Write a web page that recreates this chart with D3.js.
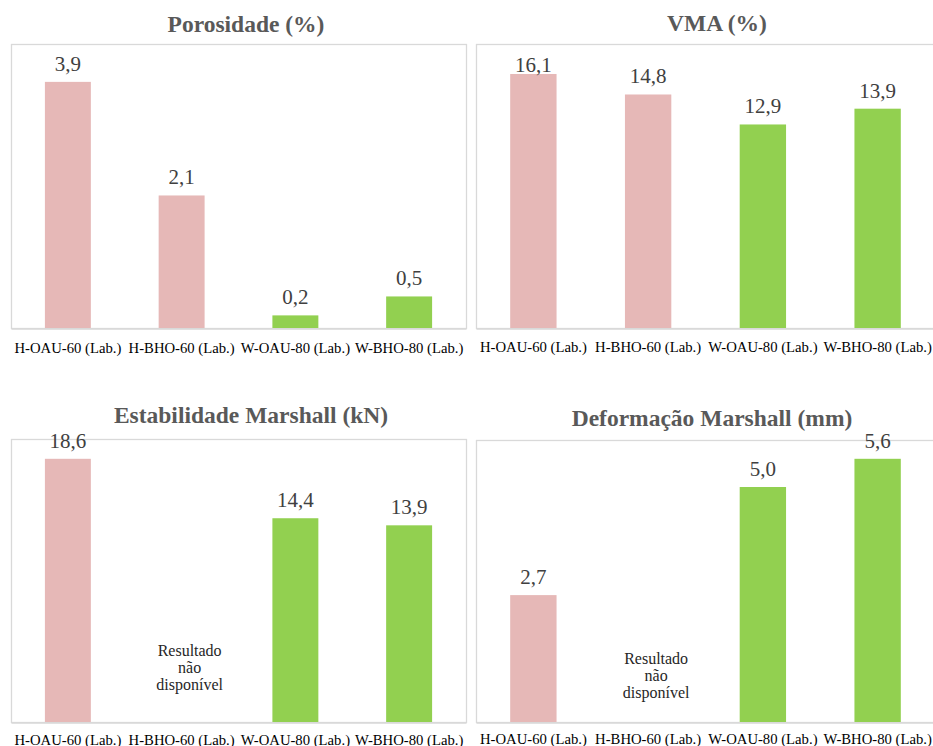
<!DOCTYPE html>
<html>
<head>
<meta charset="utf-8">
<script src="https://cdn.jsdelivr.net/npm/d3@7"></script>
<style>
  html, body { margin: 0; padding: 0; background: #fff; }
  svg { display: block; }
</style>
</head>
<body>
<svg id="chart" width="933" height="746"></svg>
<script>
// Mix designs compared in every panel
const categories = ["H-OAU-60 (Lab.)", "H-BHO-60 (Lab.)", "W-OAU-80 (Lab.)", "W-BHO-80 (Lab.)"];

// Measured properties (null = no result)
const porosidade   = [3.9, 2.1, 0.2, 0.5];
const vma          = [16.1, 14.8, 12.9, 13.9];
const estabilidade = [18.6, null, 14.4, 13.9];
const deformacao   = [2.7, null, 5.0, 5.6];

const panelTitles = ["Porosidade (%)", "VMA (%)", "Estabilidade Marshall (kN)", "Deformação Marshall (mm)"];
const axisMax = [4.5, 18, 20, 6];
const missingText = ["Resultado", "não", "disponível"];

// Panel geometry and styling
const layout = [
  { x0: 11,  x1: 466, y0: 44,  y1: 328, titleX: 246, titleY: 32,  catY: 352, labelMin: 0 },
  { x0: 476, x1: 935, y0: 44,  y1: 328, titleX: 717, titleY: 31,  catY: 351, labelMin: 72 },
  { x0: 11,  x1: 466, y0: 439, y1: 722, titleX: 251, titleY: 423, catY: 744, labelMin: 0, noteY: 656 },
  { x0: 476, x1: 935, y0: 440, y1: 722, titleX: 712, titleY: 426, catY: 743, labelMin: 0, noteY: 664 }
];
const series = [porosidade, vma, estabilidade, deformacao];
const PINK = "#e6b8b7", GREEN = "#92d050";
const FONT = '"Liberation Serif"';
const fmt = v => d3.format(".1f")(v).replace(".", ",");

const svg = d3.select("#chart");

series.forEach((values, i) => {
  const L = layout[i];
  const g = svg.append("g");

  const x = d3.scaleBand()
    .domain(categories)
    .range([L.x0, L.x1])
    .paddingInner(0.596)
    .paddingOuter(0.298);
  const y = d3.scaleLinear().domain([0, axisMax[i]]).range([L.y1, L.y0]);

  // plot frame
  g.append("rect")
    .attr("x", L.x0 + 0.5).attr("y", L.y0 + 0.5)
    .attr("width", L.x1 - L.x0).attr("height", L.y1 - L.y0)
    .attr("fill", "none").attr("stroke", "#d9d9d9").attr("stroke-width", 1.3);

  // title
  g.append("text")
    .attr("x", L.titleX).attr("y", L.titleY)
    .attr("text-anchor", "middle")
    .style("font-family", FONT)
    .style("font-weight", "bold")
    .style("font-size", "23.5px")
    .style("fill", "#595959")
    .text(panelTitles[i]);

  const data = categories.map((c, k) => ({ c, v: values[k] }));

  // bars
  g.selectAll("rect.bar")
    .data(data.filter(d => d.v != null))
    .join("rect")
    .attr("class", "bar")
    .attr("x", d => x(d.c))
    .attr("width", x.bandwidth())
    .attr("y", d => y(d.v))
    .attr("height", d => y(0) - y(d.v))
    .attr("fill", d => d.c.startsWith("H") ? PINK : GREEN);

  // value labels
  g.selectAll("text.val")
    .data(data.filter(d => d.v != null))
    .join("text")
    .attr("class", "val")
    .attr("x", d => x(d.c) + x.bandwidth() / 2)
    .attr("y", d => Math.max(y(d.v) - 11, L.labelMin))
    .attr("text-anchor", "middle")
    .style("font-family", FONT)
    .style("font-size", "21px")
    .style("fill", "#404040")
    .text(d => fmt(d.v));

  // note for missing results
  data.filter(d => d.v == null).forEach(d => {
    const t = g.append("text")
      .attr("text-anchor", "middle")
      .style("font-family", FONT)
      .style("font-size", "16px")
      .style("fill", "#262626");
    missingText.forEach((line, k) => {
      t.append("tspan")
        .attr("x", x(d.c) + x.bandwidth() / 2 + 8)
        .attr("y", L.noteY + k * 17)
        .text(line);
    });
  });

  // category axis
  const ax = g.append("g")
    .attr("transform", `translate(0,${L.y1 + 0.5})`)
    .call(d3.axisBottom(x).tickSize(0).tickSizeOuter(0));
  ax.select(".domain").attr("stroke", "#d9d9d9").attr("stroke-width", 1.3);
  ax.selectAll(".tick text")
    .attr("y", L.catY - L.y1)
    .attr("dy", 0)
    .style("font-family", FONT)
    .style("font-size", "14.7px")
    .style("fill", "#000");
});
</script>
</body>
</html>
